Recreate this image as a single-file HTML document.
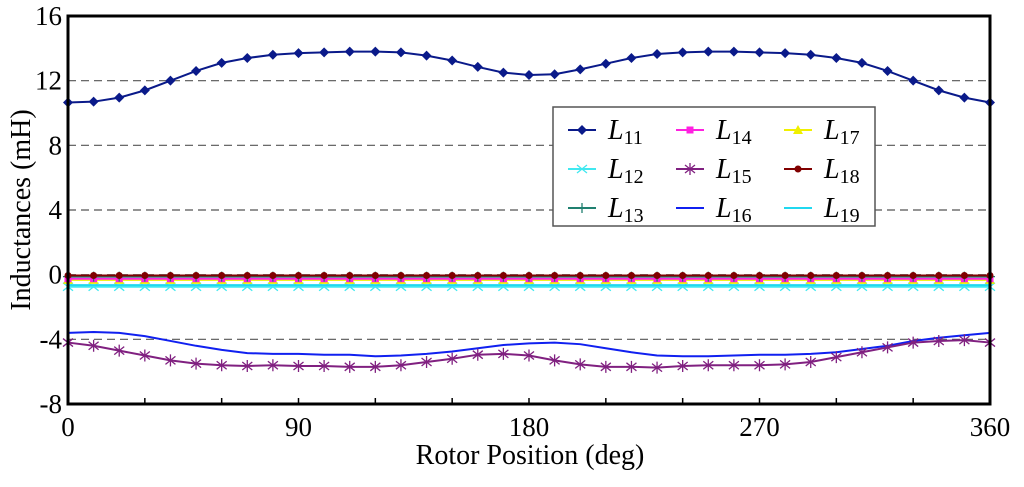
<!DOCTYPE html>
<html><head><meta charset="utf-8"><style>
body{margin:0;background:#fff;}
svg text{font-family:"Liberation Serif",serif;}
</style></head><body>
<svg id="chart" width="1024" height="482" xmlns="http://www.w3.org/2000/svg">
<g id="grid"></g><g id="series"></g><g id="axes"></g><g id="legend"></g>
</svg>
<script>
const angles=[0,10,20,30,40,50,60,70,80,90,100,110,120,130,140,150,160,170,180,190,200,210,220,230,240,250,260,270,280,290,300,310,320,330,340,350,360];
const L11=[10.65,10.7,10.95,11.4,12.0,12.6,13.1,13.4,13.6,13.7,13.75,13.8,13.8,13.75,13.55,13.25,12.85,12.5,12.35,12.4,12.7,13.05,13.4,13.65,13.75,13.8,13.8,13.75,13.7,13.6,13.4,13.1,12.6,12.0,11.4,10.95,10.65];
const L12=Array(37).fill(-0.75);
const L13=Array(37).fill(-0.12);
const L14=Array(37).fill(-0.25);
const L15=[-4.2,-4.4,-4.7,-5.0,-5.3,-5.5,-5.6,-5.65,-5.6,-5.65,-5.65,-5.7,-5.7,-5.6,-5.4,-5.2,-4.95,-4.9,-5.0,-5.3,-5.55,-5.7,-5.7,-5.75,-5.65,-5.6,-5.6,-5.6,-5.55,-5.4,-5.1,-4.8,-4.5,-4.2,-4.1,-4.05,-4.2];
const L16=[-3.6,-3.55,-3.6,-3.8,-4.1,-4.4,-4.65,-4.85,-4.9,-4.9,-4.95,-4.95,-5.05,-5.0,-4.9,-4.75,-4.55,-4.35,-4.25,-4.2,-4.3,-4.55,-4.8,-5.0,-5.05,-5.05,-5.0,-4.95,-4.95,-4.9,-4.8,-4.6,-4.4,-4.1,-3.9,-3.75,-3.6];
const L17=Array(37).fill(-0.32);
const L18=Array(37).fill(-0.05);
const L19=Array(37).fill(-0.65);
const yTicks=[-8,-4,0,4,8,12,16];
const xTicks=[0,90,180,270,360];
const x0=68,x1=990,yTop=16,yBot=404;
const X=v=>x0+(v/360)*(x1-x0);
const Y=v=>yBot-(v+8)/24*(yBot-yTop);
const NS="http://www.w3.org/2000/svg";
function mk(t,a,p){const e=document.createElementNS(NS,t);for(const k in a)e.setAttribute(k,a[k]);p.appendChild(e);return e;}
const grid=document.getElementById('grid'),axes=document.getElementById('axes'),ser=document.getElementById('series'),leg=document.getElementById('legend');
yTicks.forEach(v=>{
 if(v>-8&&v<16){const g=mk('line',{x1:x0,x2:x1,y1:Y(v),y2:Y(v),stroke:'#555','stroke-width':1.2,'stroke-dasharray':'8,5'},grid);
 
 }
 const t=mk('text',{x:62,y:Y(v)+9,'text-anchor':'end','font-size':27},axes);t.textContent=v;
 
 
});
for(let a=30;a<360;a+=30){mk('line',{x1:X(a),x2:X(a),y1:yBot,y2:yBot-6,stroke:'#000','stroke-width':1.5},axes);}
xTicks.forEach(v=>{const t=mk('text',{x:X(v),y:436,'text-anchor':'middle','font-size':27},axes);t.textContent=v;
 
 });
const fr=mk('rect',{x:x0,y:yTop,width:x1-x0,height:yBot-yTop,fill:'none',stroke:'#000','stroke-width':3},axes);


const xt=mk('text',{x:530,y:464,'text-anchor':'middle','font-size':28},axes);xt.textContent='Rotor Position (deg)';


const yt=mk('text',{x:0,y:0,'text-anchor':'middle','font-size':28,transform:'translate(30,210) rotate(-90)'},axes);yt.textContent='Inductances (mH)';


function marker(kind,x,y,c,p){
 if(kind==='diamond')mk('path',{d:`M${x},${y-5}L${x+5},${y}L${x},${y+5}L${x-5},${y}Z`,fill:c},p);
 else if(kind==='square')mk('rect',{x:x-3.5,y:y-3.5,width:7,height:7,fill:c},p);
 else if(kind==='tri')mk('path',{d:`M${x},${y-5}L${x+5},${y+4}L${x-5},${y+4}Z`,fill:c},p);
 else if(kind==='circle')mk('circle',{cx:x,cy:y,r:3.5,fill:c},p);
 else if(kind==='x')mk('path',{d:`M${x-5},${y-4}L${x+5},${y+4}M${x-5},${y+4}L${x+5},${y-4}`,stroke:c,'stroke-width':1.3},p);
 else if(kind==='star')mk('path',{d:`M${x-5},${y-4}L${x+5},${y+4}M${x-5},${y+4}L${x+5},${y-4}M${x},${y-6}L${x},${y+6}`,stroke:c,'stroke-width':1.3},p);
 else if(kind==='plus')mk('path',{d:`M${x-5},${y}L${x+5},${y}M${x},${y-5}L${x},${y+5}`,stroke:c,'stroke-width':1.3},p);
}
const series=[
 ['L11','11',L11,'#0a1a8a','diamond'],['L12','12',L12,'#40e8f0','x'],['L13','13',L13,'#208070','plus'],
 ['L14','14',L14,'#ff20e0','square'],['L15','15',L15,'#802080','star'],['L16','16',L16,'#1020f0',null],
 ['L17','17',L17,'#f0f000','tri'],['L18','18',L18,'#800000','circle'],['L19','19',L19,'#20d8f0',null]];
const drawOrder=[1,8,6,3,2,7,5,4,0];
drawOrder.forEach(i=>{const [n,s,d,c,m]=series[i];
 const g=mk('g',{},ser);
 
 
 mk('polyline',{points:d.map((v,k)=>X(angles[k])+','+Y(v)).join(' '),fill:'none',stroke:c,'stroke-width':2},g);
 if(m)d.forEach((v,k)=>marker(m,X(angles[k]),Y(v),c,g));
});
const lb=mk('rect',{x:553,y:107,width:322,height:119,fill:'#fff',stroke:'#555','stroke-width':1.5},leg);


series.forEach((sr,i)=>{const col=Math.floor(i/3),row=i%3;
 const lx=568+col*108,ly=130+row*39;
 const g=mk('g',{},leg);
 
 
 mk('line',{x1:lx,x2:lx+28,y1:ly,y2:ly,stroke:sr[3],'stroke-width':2},g);
 if(sr[4])marker(sr[4],lx+14,ly,sr[3],g);
 const t=mk('text',{x:lx+40,y:ly+9,'font-size':28,'font-style':'italic'},g);t.textContent='L';
 const s=mk('tspan',{'font-size':20,'font-style':'normal',dy:5},t);s.textContent=sr[1];
});
</script>
</body></html>
